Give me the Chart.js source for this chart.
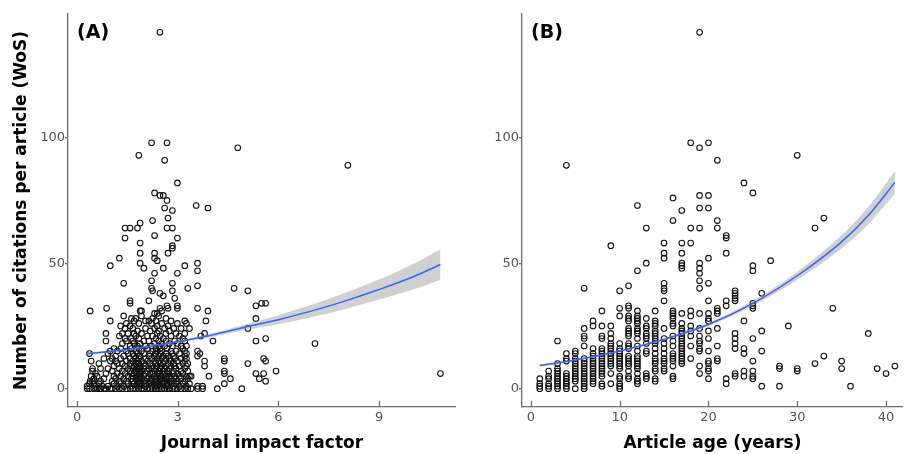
<!DOCTYPE html>
<html>
<head>
<meta charset="utf-8">
<script src="https://cdn.jsdelivr.net/npm/chart.js@4.4.0/dist/chart.umd.min.js"></script>
<style>
  html, body { margin: 0; padding: 0; background: #fff; }
  #wrap { position: relative; width: 908px; height: 454px; }
  #chartA { position: absolute; left: 0; top: 0; }
  #chartB { position: absolute; left: 461px; top: 0; }
</style>
</head>
<body>
<div id="wrap">
  <canvas id="chartA" width="461" height="454"></canvas>
  <canvas id="chartB" width="447" height="454"></canvas>
</div>
<script>
// citations per article, grouped by journal impact factor (x, [citations...])
const jifColumns = [
  [0.30, [0, 1]], [0.37, [0, 2, 14]], [0.39, [3, 31]], [0.42, [5, 11]], [0.46, [3, 7, 8]],
  [0.50, [0, 2, 4]], [0.55, [0, 1, 6]], [0.60, [0, 5]], [0.65, [2, 10]], [0.70, [0, 3, 8]],
  [0.75, [1]], [0.80, [0, 4, 12]], [0.86, [0, 6, 19, 22]], [0.88, [32]], [0.92, [1, 8, 14]],
  [0.99, [0, 11, 15, 27, 49]], [1.05, [0, 3, 7, 12]], [1.10, [2, 5, 9, 16]], [1.15, [0, 4, 11, 13]],
  [1.20, [1, 6, 10, 15]], [1.26, [0, 3, 8, 21, 52]], [1.30, [2, 5, 12, 16, 25]],
  [1.35, [0, 7, 10, 18, 22]], [1.39, [1, 4, 13, 29, 42]], [1.43, [6, 9, 20, 24, 60, 64]],
  [1.47, [0, 3, 11, 15, 19, 26]], [1.52, [2, 5, 8, 14, 22]], [1.58, [0, 7, 10, 12, 17, 25, 34, 35, 64]],
  [1.62, [1, 4, 6, 9, 16, 20, 28]], [1.66, [0, 3, 5, 8, 11, 14, 19, 24]], [1.70, [2, 6, 9, 13, 18, 22, 27]],
  [1.75, [0, 4, 7, 10, 12, 15, 21, 28]], [1.80, [1, 3, 5, 6, 8, 9, 11, 14, 17, 23, 64]],
  [1.84, [0, 2, 4, 7, 10, 12, 16, 20, 26, 93]], [1.88, [1, 3, 5, 6, 8, 9, 13, 18, 31, 50, 54, 58, 66]],
  [1.92, [0, 2, 4, 7, 11, 15, 22, 29, 31]], [1.99, [0, 3, 5, 8, 10, 14, 19, 48]],
  [2.04, [1, 2, 6, 9, 12, 17, 24, 27]], [2.10, [0, 4, 7, 11, 16, 21]], [2.14, [2, 5, 8, 13, 19, 27, 35]],
  [2.18, [0, 3, 6, 10, 14, 23]], [2.22, [1, 4, 8, 12, 17, 26, 40, 43, 98]],
  [2.25, [0, 2, 6, 9, 15, 21, 28, 39, 67]], [2.31, [1, 3, 5, 7, 11, 13, 18, 24, 30, 46, 52, 54, 61, 78]],
  [2.35, [0, 2, 4, 8, 10, 14, 16, 20, 27]], [2.39, [1, 3, 6, 9, 12, 15, 22, 25, 30, 51]],
  [2.43, [0, 2, 5, 7, 11, 13, 17, 19, 23, 29]], [2.47, [1, 4, 6, 8, 10, 14, 16, 21, 32, 38, 77, 142]],
  [2.52, [0, 3, 5, 9, 12, 15, 18, 26, 31]], [2.57, [2, 4, 7, 10, 13, 20, 37, 48, 77]],
  [2.61, [0, 3, 6, 8, 11, 17, 24, 72, 91]], [2.65, [1, 5, 9, 12, 14, 19, 22, 28]],
  [2.68, [0, 2, 4, 7, 16, 33, 64, 75, 98]], [2.71, [1, 6, 10, 13, 25, 32, 54, 68]],
  [2.75, [0, 3, 5, 8, 12, 18, 23]], [2.80, [2, 4, 9, 11, 15, 21, 27]],
  [2.84, [0, 6, 14, 17, 39, 42, 56, 57, 64, 71]], [2.88, [1, 3, 7, 10, 13, 24]],
  [2.91, [0, 5, 9, 12, 19, 36]], [2.95, [2, 4, 8, 15, 22]],
  [2.99, [0, 3, 6, 11, 18, 26, 32, 33, 46, 60, 82]], [3.05, [1, 5, 9, 14, 21]],
  [3.10, [0, 4, 7, 12, 17, 24]], [3.15, [2, 6, 10, 16, 20]],
  [3.21, [0, 3, 8, 11, 13, 15, 19, 22, 27, 49]], [3.26, [1, 5, 9, 12, 14, 17, 26]],
  [3.30, [0, 4, 7, 10, 40]], [3.35, [2, 5, 24]], [3.40, [0, 5]], [3.55, [73]],
  [3.59, [0, 1, 13, 15, 32, 41, 47, 50]], [3.66, [14]], [3.69, [21]], [3.74, [0, 1]],
  [3.80, [9, 11, 22]], [3.84, [27]], [3.90, [31, 72]], [3.93, [5]], [4.05, [19]], [4.18, [0]],
  [4.39, [2, 6, 7, 11, 12]], [4.57, [4]], [4.68, [40]], [4.79, [96]], [4.91, [0]],
  [5.09, [10, 24, 39]], [5.33, [6, 19, 28, 33]], [5.43, [4]], [5.50, [34]], [5.56, [6, 12]],
  [5.62, [3, 11, 20, 34]], [5.93, [7]], [7.09, [18]], [8.07, [89]], [10.83, [6]]
];

// citations per article, grouped by article age in years
const ageColumns = [
  [1, [0, 1, 2, 4]],
  [2, [0, 1, 2, 4, 5, 7]],
  [3, [0, 1, 2, 3, 4, 5, 6, 7, 8, 10, 19]],
  [4, [0, 1, 2, 3, 4, 5, 6, 11, 12, 14, 89]],
  [5, [0, 3, 4, 5, 6, 7, 8, 9, 10, 11, 12, 14, 15]],
  [6, [0, 1, 2, 3, 4, 5, 6, 7, 8, 9, 10, 11, 12, 17, 20, 21, 24, 40]],
  [7, [2, 3, 4, 5, 6, 7, 8, 9, 10, 11, 12, 13, 14, 16, 25, 27]],
  [8, [1, 2, 5, 6, 7, 8, 9, 10, 11, 12, 13, 14, 15, 16, 20, 21, 25, 31]],
  [9, [2, 6, 9, 10, 11, 12, 13, 14, 15, 16, 17, 18, 20, 22, 25, 57]],
  [10, [0, 1, 2, 4, 5, 8, 9, 10, 11, 12, 13, 14, 15, 16, 18, 29, 32, 39]],
  [11, [4, 5, 7, 9, 10, 11, 12, 13, 16, 17, 18, 21, 22, 23, 24, 27, 28, 29, 32, 33, 41]],
  [12, [2, 3, 4, 6, 8, 9, 10, 11, 12, 13, 15, 17, 20, 22, 23, 24, 26, 27, 28, 29, 31, 47, 73]],
  [13, [4, 5, 6, 14, 15, 18, 20, 21, 22, 24, 25, 28, 50, 64]],
  [14, [3, 4, 7, 8, 10, 11, 12, 14, 16, 18, 19, 20, 21, 22, 23, 25, 26, 27, 31]],
  [15, [7, 8, 10, 11, 12, 14, 16, 18, 20, 24, 35, 39, 40, 42, 52, 54, 58]],
  [16, [4, 5, 9, 11, 12, 13, 14, 17, 19, 21, 25, 26, 28, 29, 30, 31, 67, 76]],
  [17, [10, 11, 12, 13, 14, 15, 16, 17, 18, 19, 20, 21, 22, 23, 24, 26, 30, 48, 49, 50, 54, 58, 71]],
  [18, [12, 17, 21, 23, 25, 29, 31, 58, 64, 98]],
  [19, [6, 9, 15, 16, 18, 19, 21, 24, 30, 40, 43, 46, 48, 50, 64, 72, 77, 96, 142]],
  [20, [4, 7, 8, 10, 11, 15, 20, 23, 27, 28, 30, 35, 42, 52, 72, 77, 98]],
  [21, [11, 12, 17, 24, 30, 31, 32, 64, 67, 91]],
  [22, [2, 4, 33, 35, 54, 60, 61]],
  [23, [5, 6, 16, 18, 20, 22, 35, 36, 37, 38, 39]],
  [24, [5, 7, 14, 16, 27, 82]],
  [25, [4, 5, 7, 11, 20, 32, 33, 34, 47, 49, 78]],
  [26, [1, 15, 23, 38]], [27, [51]], [28, [1, 8, 9]], [29, [25]], [30, [7, 8, 93]],
  [32, [10, 64]], [33, [13, 68]], [34, [32]], [35, [8, 11]], [36, [1]],
  [38, [22]], [39, [8]], [40, [6]], [41, [9]]
];

// fitted curves + confidence band
const fitJifX = [0.3, 1, 2, 3, 4, 5, 6, 7, 8, 9, 10, 10.83];
const fitJifY = [14.0, 14.8, 16.5, 18.7, 21.3, 24.5, 27.5, 31.0, 35.0, 39.5, 44.5, 49.5];
const fitJifLow = [13.5, 14.4, 16.2, 18.3, 20.6, 23.4, 25.7, 28.6, 31.8, 35.5, 39.4, 43.4];
const fitJifHigh = [14.5, 15.2, 16.8, 19.1, 22.0, 25.6, 29.3, 33.4, 38.2, 43.5, 49.6, 55.6];

const fitAgeX = [1, 5, 10, 15, 20, 25, 30, 35, 38, 41];
const fitAgeY = [9.2, 11.4, 15.0, 19.7, 25.6, 34.0, 45.0, 58.5, 69.0, 82.2];
const fitAgeLow = [8.8, 11.1, 14.7, 19.3, 25.0, 33.0, 43.4, 55.9, 65.6, 77.7];
const fitAgeHigh = [9.6, 11.7, 15.3, 20.1, 26.2, 35.0, 46.6, 61.1, 72.4, 86.7];

const yTickValues = [0, 50, 100];
const jifTickValues = [0, 3, 6, 9];
const ageTickValues = [0, 10, 20, 30, 40];

const FONT = '"DejaVu Sans", Verdana, sans-serif';
const AXIS = '#6e6e6e';

function flatten(cols) {
  const pts = [];
  cols.forEach(([x, ys]) => ys.forEach(y => pts.push({ x, y })));
  return pts;
}
const toXY = (xs, ys) => xs.map((x, i) => ({ x, y: ys[i] }));

// panel letter in the top-left corner
const panelLabel = {
  id: 'panelLabel',
  afterDraw(chart, args, opts) {
    const { ctx, chartArea } = chart;
    ctx.save();
    ctx.font = 'bold 19px ' + FONT;
    ctx.fillStyle = '#000';
    ctx.textBaseline = 'alphabetic';
    ctx.fillText(opts.text, chartArea.left + 9, chartArea.top + 24);
    ctx.restore();
  }
};

// x ticks point up into the plot like in the original
const innerTicks = {
  id: 'innerTicks',
  afterDraw(chart) {
    const s = chart.scales.x, ctx = chart.ctx;
    ctx.save();
    ctx.strokeStyle = AXIS;
    ctx.lineWidth = 1.3;
    s.ticks.forEach(t => {
      const px = Math.round(s.getPixelForValue(t.value)) + 0.5;
      ctx.beginPath();
      ctx.moveTo(px, s.top);
      ctx.lineTo(px, s.top - 6);
      ctx.stroke();
    });
    ctx.restore();
  }
};

function makePanel(id, cfg) {
  return new Chart(document.getElementById(id), {
    type: 'scatter',
    data: {
      datasets: [
        {
          data: flatten(cfg.columns),
          pointStyle: 'circle',
          pointRadius: 2.8,
          borderWidth: 1.1,
          borderColor: '#111',
          backgroundColor: 'rgba(0,0,0,0)',
          order: 3
        },
        {
          type: 'line',
          data: toXY(cfg.fitX, cfg.fitHigh),
          borderWidth: 0,
          pointRadius: 0,
          fill: false,
          cubicInterpolationMode: 'monotone',
          order: 2
        },
        {
          type: 'line',
          data: toXY(cfg.fitX, cfg.fitLow),
          borderWidth: 0,
          pointRadius: 0,
          fill: '-1',
          backgroundColor: 'rgba(150,150,150,0.45)',
          cubicInterpolationMode: 'monotone',
          order: 2
        },
        {
          type: 'line',
          data: toXY(cfg.fitX, cfg.fitY),
          borderColor: '#3366ff',
          borderWidth: 1.5,
          pointRadius: 0,
          fill: false,
          cubicInterpolationMode: 'monotone',
          order: 1
        }
      ]
    },
    options: {
      responsive: false,
      animation: false,
      layout: { padding: { top: 14, right: 0, bottom: 0, left: 0 } },
      plugins: {
        legend: { display: false },
        tooltip: { enabled: false },
        panelLabel: { text: cfg.label }
      },
      scales: {
        x: {
          type: 'linear',
          min: cfg.xMin,
          max: cfg.xMax,
          afterBuildTicks: s => { s.ticks = cfg.xTicks.map(v => ({ value: v })); },
          afterFit: s => { s.height = 47; },
          grid: { display: false, drawTicks: false },
          border: { display: true, color: AXIS, width: 1.3 },
          ticks: { color: '#555', font: { family: FONT, size: 13 }, padding: 3 },
          title: {
            display: true, text: cfg.xTitle, color: '#000',
            font: { family: FONT, size: 17, weight: 'bold' },
            padding: { top: 0, bottom: 0 }
          }
        },
        y: {
          type: 'linear',
          min: -7.3,
          max: 149.3,
          afterBuildTicks: s => { s.ticks = yTickValues.map(v => ({ value: v })); },
          afterFit: s => { s.width = cfg.yWidth; },
          grid: { display: true, drawOnChartArea: false, drawTicks: true, tickLength: 3, color: AXIS, lineWidth: 1.3 },
          border: { display: true, color: AXIS, width: 1.3 },
          ticks: { color: '#555', font: { family: FONT, size: 13 }, padding: 0 },
          title: {
            display: !!cfg.yTitle, text: cfg.yTitle || '', color: '#000',
            font: { family: FONT, size: 17, weight: 'bold' },
            padding: { top: 11, bottom: 0 }
          }
        }
      }
    },
    plugins: [panelLabel, innerTicks]
  });
}

makePanel('chartA', {
  label: '(A)',
  columns: jifColumns,
  fitX: fitJifX, fitY: fitJifY, fitLow: fitJifLow, fitHigh: fitJifHigh,
  xMin: -0.27, xMax: 11.29, xTicks: jifTickValues,
  xTitle: 'Journal impact factor',
  yTitle: 'Number of citations per article (WoS)',
  yWidth: 68
});

makePanel('chartB', {
  label: '(B)',
  columns: ageColumns,
  fitX: fitAgeX, fitY: fitAgeY, fitLow: fitAgeLow, fitHigh: fitAgeHigh,
  xMin: -1.0, xMax: 41.9, xTicks: ageTickValues,
  xTitle: 'Article age (years)',
  yWidth: 61
});
</script>
</body>
</html>
